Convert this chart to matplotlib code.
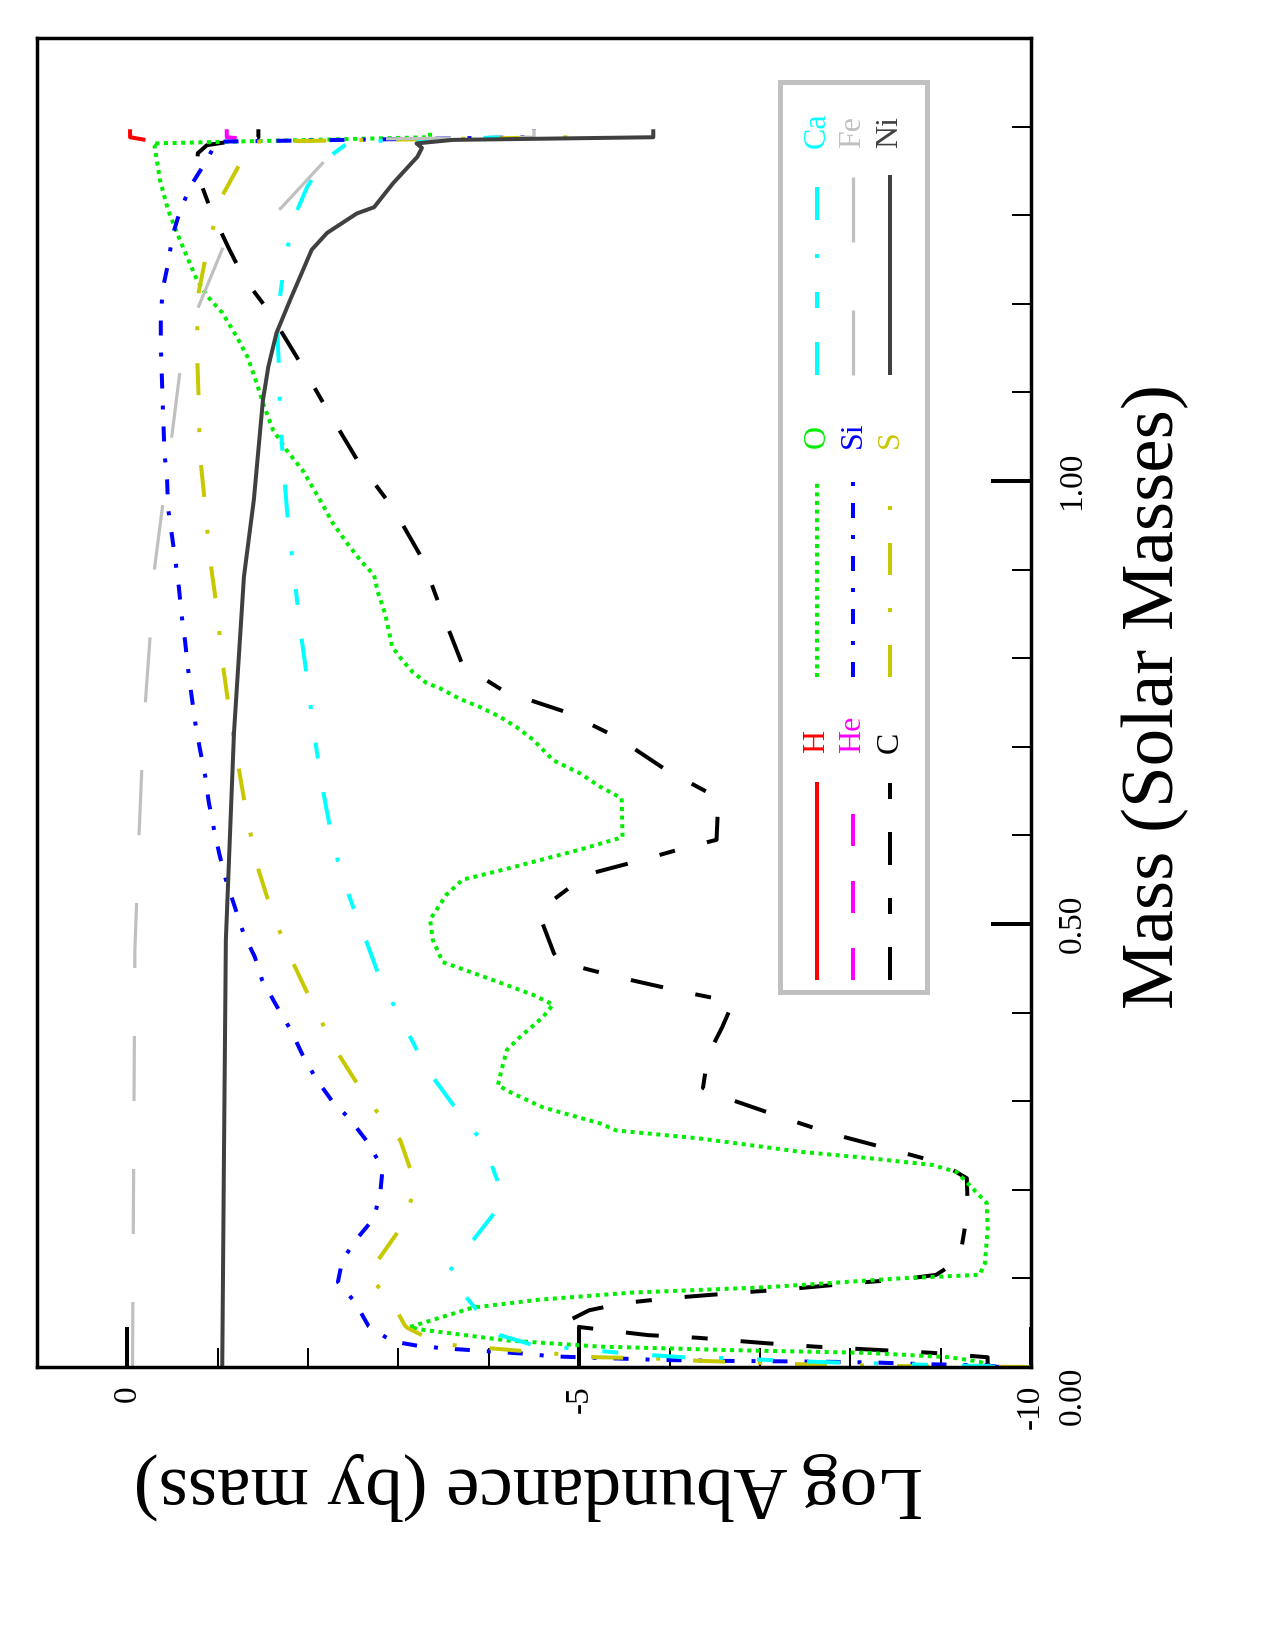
import matplotlib
matplotlib.use("Agg")
import matplotlib.pyplot as plt
from matplotlib.ticker import MultipleLocator, FixedLocator, FixedFormatter
from matplotlib.patches import Rectangle
from matplotlib.lines import Line2D

plt.rcParams['font.family'] = ['Liberation Serif', 'DejaVu Serif']
plt.rcParams['lines.scale_dashes'] = False
plt.rcParams['axes.unicode_minus'] = False

PX = 0.72  # one pixel in points at dpi 100

# ---- data: mass (solar masses) vs log abundance (by mass) ----
elements = ['H', 'He', 'C', 'O', 'Si', 'S', 'Ca', 'Fe', 'Ni']

h_mass = [1.385, 1.388, 1.397]
h_ab = [-0.20, -0.03, -0.03]

he_mass = [1.387, 1.388, 1.397]
he_ab = [-1.21, -1.10, -1.10]

c_mass = [0.000, 0.002, 0.011, 0.016, 0.019, 0.023, 0.027, 0.033, 0.036, 0.045, 0.047, 0.064,
          0.072, 0.078, 0.084, 0.088, 0.095, 0.099, 0.104, 0.121, 0.140, 0.177, 0.213, 0.230,
          0.245, 0.264, 0.282, 0.307, 0.315, 0.349, 0.361, 0.383, 0.411, 0.414, 0.423, 0.440,
          0.454, 0.457, 0.467, 0.510, 0.524, 0.556, 0.573, 0.586, 0.595, 0.642, 0.646, 0.674,
          0.710, 0.739, 0.762, 0.792, 0.852, 0.911, 0.968, 1.021, 1.077, 1.134, 1.191, 1.229,
          1.261, 1.304, 1.348, 1.370, 1.379, 1.388, 1.397]
c_ab = [-9.60, -9.52, -9.52, -8.90, -8.35, -7.61, -7.05, -6.31, -5.76, -5.01, -4.78, -5.11,
        -5.48, -6.03, -6.78, -7.33, -8.07, -8.58, -8.95, -9.21, -9.24, -9.30, -9.29, -9.01,
        -8.47, -7.77, -7.24, -6.53, -6.37, -6.42, -6.47, -6.58, -6.70, -6.61, -6.17, -5.43,
        -4.90, -4.78, -4.72, -4.56, -4.67, -5.09, -5.72, -6.17, -6.52, -6.54, -6.47, -5.96,
        -5.43, -4.86, -4.18, -3.71, -3.48, -3.27, -2.95, -2.56, -2.23, -1.91, -1.57, -1.29,
        -1.13, -0.93, -0.77, -0.78, -0.88, -1.45, -1.45]

o_mass = [0.000, 0.002, 0.006, 0.011, 0.016, 0.019, 0.023, 0.030, 0.042, 0.045, 0.067, 0.076,
          0.084, 0.090, 0.100, 0.104, 0.117, 0.155, 0.185, 0.220, 0.228, 0.236, 0.243, 0.258,
          0.267, 0.275, 0.293, 0.309, 0.318, 0.335, 0.358, 0.372, 0.395, 0.409, 0.420, 0.431,
          0.445, 0.457, 0.482, 0.505, 0.533, 0.550, 0.561, 0.569, 0.584, 0.598, 0.642, 0.655,
          0.670, 0.685, 0.708, 0.722, 0.734, 0.745, 0.754, 0.766, 0.772, 0.784, 0.798, 0.813,
          0.828, 0.851, 0.875, 0.894, 0.909, 0.930, 0.953, 0.979, 1.012, 1.035, 1.058, 1.088,
          1.111, 1.140, 1.163, 1.190, 1.208, 1.227, 1.253, 1.280, 1.306, 1.340, 1.379, 1.381,
          1.388, 1.397]
o_ab = [-9.55, -9.52, -9.43, -9.10, -8.18, -6.70, -5.23, -4.20, -3.27, -3.12, -3.82, -4.56,
        -5.59, -7.07, -8.55, -9.43, -9.49, -9.52, -9.51, -9.18, -8.91, -8.18, -7.44, -6.33,
        -5.41, -5.23, -4.60, -4.26, -4.10, -4.14, -4.20, -4.34, -4.60, -4.71, -4.49, -4.20,
        -3.82, -3.49, -3.38, -3.35, -3.53, -3.71, -4.15, -4.45, -5.01, -5.48, -5.47, -5.23,
        -5.01, -4.71, -4.49, -4.31, -4.12, -3.90, -3.68, -3.46, -3.31, -3.16, -3.04, -2.93,
        -2.90, -2.85, -2.77, -2.73, -2.59, -2.43, -2.27, -2.13, -1.94, -1.76, -1.61, -1.50,
        -1.43, -1.33, -1.21, -1.05, -0.89, -0.77, -0.66, -0.55, -0.45, -0.36, -0.30, -0.28,
        -3.35, -3.35]

si_mass = [0.000, 0.002, 0.003, 0.005, 0.006, 0.0065, 0.007, 0.008, 0.010, 0.012, 0.015, 0.017,
           0.019, 0.021, 0.024, 0.029, 0.046, 0.073, 0.096, 0.121, 0.146, 0.168, 0.198, 0.219,
           0.234, 0.255, 0.280, 0.301, 0.325, 0.352, 0.380, 0.406, 0.437, 0.463, 0.488, 0.519,
           0.550, 0.578, 0.606, 0.638, 0.668, 0.699, 0.728, 0.758, 0.789, 0.818, 0.849, 0.880,
           0.911, 0.941, 0.970, 1.001, 1.032, 1.063, 1.091, 1.123, 1.153, 1.184, 1.216, 1.245,
           1.277, 1.304, 1.333, 1.359, 1.383, 1.388, 1.397]
si_ab = [-9.65, -9.49, -8.91, -8.29, -7.69, -7.11, -6.50, -5.89, -5.30, -4.71, -4.40, -4.10,
         -3.81, -3.51, -3.21, -2.93, -2.67, -2.52, -2.33, -2.38, -2.55, -2.73, -2.80, -2.82,
         -2.77, -2.65, -2.46, -2.26, -2.09, -1.94, -1.81, -1.66, -1.49, -1.41, -1.29, -1.19,
         -1.09, -1.02, -0.96, -0.90, -0.86, -0.80, -0.75, -0.71, -0.67, -0.64, -0.60, -0.57,
         -0.53, -0.49, -0.45, -0.44, -0.41, -0.40, -0.39, -0.38, -0.37, -0.37, -0.39, -0.45,
         -0.50, -0.58, -0.70, -0.86, -0.99, -4.50, -4.50]

s_mass = [0.000, 0.001, 0.002, 0.003, 0.005, 0.007, 0.010, 0.011, 0.016, 0.021, 0.026, 0.044,
          0.047, 0.073, 0.104, 0.152, 0.203, 0.256, 0.301, 0.351, 0.403, 0.457, 0.510, 0.568,
          0.624, 0.683, 0.739, 0.798, 0.857, 0.915, 0.973, 1.033, 1.090, 1.149, 1.208, 1.265,
          1.322, 1.357, 1.374, 1.383, 1.388, 1.397]
s_ab = [-10.0, -8.64, -8.07, -7.49, -6.92, -6.33, -5.76, -5.19, -4.62, -4.03, -3.46, -3.10,
        -3.07, -2.93, -2.66, -2.99, -3.20, -3.02, -2.66, -2.35, -2.08, -1.83, -1.61, -1.43,
        -1.32, -1.22, -1.13, -1.05, -0.99, -0.91, -0.86, -0.80, -0.79, -0.77, -0.78, -0.89,
        -1.05, -1.24, -1.34, -1.39, -4.90, -4.90]

ca_mass = [0.000, 0.001, 0.002, 0.004, 0.005, 0.007, 0.010, 0.011, 0.015, 0.021, 0.026, 0.036,
           0.044, 0.064, 0.095, 0.106, 0.141, 0.175, 0.179, 0.209, 0.253, 0.291, 0.337, 0.396,
           0.440, 0.479, 0.505, 0.558, 0.605, 0.664, 0.728, 0.777, 0.835, 0.900, 0.950, 1.026,
           1.074, 1.123, 1.167, 1.201, 1.247, 1.296, 1.332, 1.362, 1.383, 1.388, 1.397]
ca_ab = [-9.60, -9.54, -8.99, -8.32, -7.86, -7.29, -6.65, -6.15, -5.56, -4.92, -4.45, -4.12,
         -4.01, -3.87, -3.62, -3.55, -3.81, -4.07, -4.09, -4.10, -3.94, -3.64, -3.31, -3.01,
         -2.79, -2.65, -2.55, -2.36, -2.25, -2.14, -2.05, -1.99, -1.91, -1.84, -1.78, -1.72,
         -1.69, -1.68, -1.66, -1.68, -1.74, -1.84, -1.99, -2.18, -2.46, -4.20, -4.20]

fe_mass = [0.000, 0.470, 0.603, 0.675, 0.751, 0.822, 0.901, 0.972, 1.049, 1.122, 1.195, 1.264,
           1.308, 1.362, 1.386, 1.388, 1.397]
fe_ab = [-0.057, -0.083, -0.13, -0.16, -0.20, -0.25, -0.30, -0.39, -0.49, -0.58, -0.78, -1.06,
         -1.70, -2.19, -2.70, -4.50, -4.50]

ni_mass = [0.000, 0.250, 0.482, 0.716, 0.892, 0.979, 1.091, 1.129, 1.167, 1.204, 1.261, 1.280,
           1.302, 1.309, 1.336, 1.366, 1.376, 1.381, 1.385, 1.388, 1.397]
ni_ab = [-1.05, -1.07, -1.09, -1.18, -1.29, -1.40, -1.50, -1.56, -1.65, -1.80, -2.04, -2.21,
         -2.54, -2.73, -2.94, -3.21, -3.26, -3.20, -3.60, -5.82, -5.82]

ab_ticks = [0, -5, -10]
ab_tick_labels = ['0', '-5', '-10']
mass_ticks = [0.0, 0.5, 1.0]
mass_tick_labels = ['0.00', '0.50', '1.00']

# ---- styles ----
colors = {'H': '#ff0000', 'He': '#ff00ff', 'C': '#000000', 'O': '#00ee00', 'Si': '#0000ff',
          'S': '#c8c800', 'Ca': '#00ffff', 'Fe': '#c0c0c0', 'Ni': '#404040'}
dash_px = {'H': None, 'He': (32, 35), 'C': (33, 33, 16, 33), 'O': (4, 4.6),
           'Si': (15, 17, 4, 17), 'S': (32, 33, 4, 33), 'Ca': (33, 34, 16, 34, 4, 34),
           'Fe': (65, 68), 'Ni': None}
widths = {'Fe': 3.2}

def style(el):
    d = dash_px[el]
    ls = '-' if d is None else (0, tuple(v * PX for v in d))
    return dict(color=colors[el], linestyle=ls, linewidth=widths.get(el, 4.0) * PX,
                dash_capstyle='butt', solid_capstyle='butt')

series = {'H': (h_mass, h_ab), 'He': (he_mass, he_ab), 'C': (c_mass, c_ab),
          'O': (o_mass, o_ab), 'Si': (si_mass, si_ab), 'S': (s_mass, s_ab),
          'Ca': (ca_mass, ca_ab), 'Fe': (fe_mass, fe_ab), 'Ni': (ni_mass, ni_ab)}

fig = plt.figure(figsize=(12.75, 16.5), dpi=100)
ax = fig.add_axes([37 / 1275, 1 - 1367 / 1650, 994 / 1275, 1329 / 1650])

# the page is turned: abundance runs left->right (0 .. -10), mass runs upwards
for el in elements:
    m, a = series[el]
    ax.plot(a, m, **style(el))

ax.set_xlim(1, -10)
ax.set_ylim(0, 1.5)

for sp in ax.spines.values():
    sp.set_linewidth(2.5)

ax.xaxis.set_major_locator(FixedLocator(ab_ticks))
ax.xaxis.set_major_formatter(FixedFormatter(ab_tick_labels))
ax.xaxis.set_minor_locator(MultipleLocator(1))
ax.yaxis.tick_right()
ax.yaxis.set_major_locator(FixedLocator(mass_ticks))
ax.yaxis.set_major_formatter(FixedFormatter(mass_tick_labels))
ax.yaxis.set_minor_locator(MultipleLocator(0.1))

ax.tick_params(axis='x', which='both', direction='in', bottom=True, top=False)
ax.tick_params(axis='y', which='both', direction='in', right=True, left=False)
ax.tick_params(which='major', length=40 * PX, width=4 * PX, labelsize=24)
ax.tick_params(which='minor', length=19 * PX, width=2 * PX)
ax.tick_params(axis='x', pad=18 * PX, labelrotation=90)
ax.tick_params(axis='y', pad=26 * PX, labelrotation=90)
for lab in ax.get_xticklabels():
    lab.set_va('top')
for i, lab in enumerate(ax.get_yticklabels()):
    lab.set_va('top' if i == 0 else 'center')

fig.text(1155 / 1275, 1 - 697 / 1650, 'Mass (Solar Masses)', rotation=90,
         ha='center', va='center', fontsize=54)
fig.text(528 / 1275, 1 - 1486 / 1650, 'Log Abundance (by mass)', rotation=180,
         ha='center', va='center', fontsize=54)

# ---- legend box (drawn by hand, rotated like the rest) ----
ax.add_patch(Rectangle((0.7475, 0.2822), 0.1479, 0.6847, transform=ax.transAxes,
                       facecolor='white', edgecolor='#c0c0c0', linewidth=3.6, zorder=5))
cols = [0.7847, 0.8209, 0.8581]
groups = [(0.2912, 0.4402, 0.4620, ['H', 'He', 'C']),
          (0.5192, 0.6674, 0.6915, ['O', 'Si', 'S']),
          (0.7464, 0.8969, 0.9172, ['Ca', 'Fe', 'Ni'])]
for y0, y1, ylab, names in groups:
    for fx, el in zip(cols, names):
        ax.add_line(Line2D([fx, fx], [y0, y1], transform=ax.transAxes, zorder=6,
                           clip_on=False, **style(el)))
        ax.text(fx, ylab, el, transform=ax.transAxes, rotation=90, ha='center',
                va='bottom', fontsize=23, color=colors[el], zorder=6)

fig.savefig('out.png', dpi=100)
